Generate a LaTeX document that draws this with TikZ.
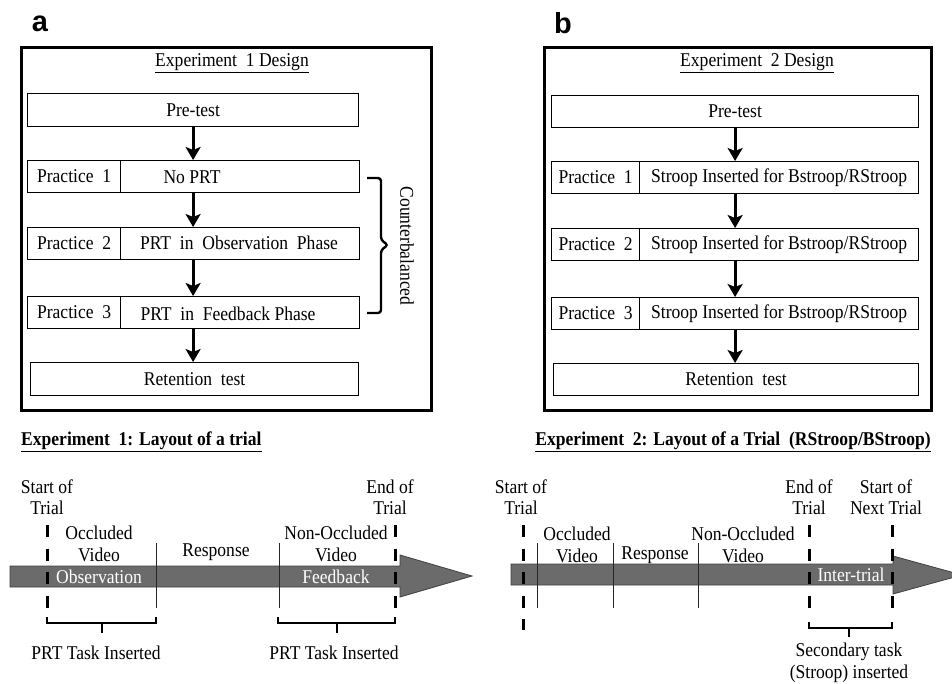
\documentclass[tikz,border=0pt]{standalone}
\usepackage{fontspec}
\setmainfont[FakeStretch=0.9]{Liberation Serif}
\newfontfamily\lsans{Liberation Sans}
\usetikzlibrary{arrows.meta}
\begin{document}
\begin{tikzpicture}[x=1pt,y=-1pt,
  every node/.style={font=\fontsize{19.5}{21.5}\selectfont, inner sep=0pt},
  outer/.style={draw, line width=3.2pt},
  box/.style={draw, line width=1.2pt, anchor=north west},
  arr/.style={line width=3pt, -{Stealth[length=13pt,width=15pt,inset=3pt]}},
  tl/.style={fill=black!58, draw=black!75, line width=0.8pt},
  dline/.style={line width=3pt, dash pattern=on 12pt off 11.5pt},
  thin/.style={line width=1pt, draw=black!85},
  brk/.style={line width=1.8pt},
  white/.style={text=white},
  panel/.style={font=\lsans\bfseries\fontsize{29}{29}\selectfont}
]
\clip (0,0) rectangle (952,683);
% ---------- panel letters
\node[panel] (la) at (40,24) {a};
\node[panel] (lb) at (563,23) {b};
% ---------- panel a
\node[outer, minimum width=410, minimum height=363, anchor=north west] (fa) at (20,46) {};
\node (ta) at (232,63) {\underline{Experiment\ \ 1 Design}};
\node[box, minimum width=331, minimum height=33] (pre1) at (27,93) {Pre-test};
\node[box, minimum width=93, minimum height=32] (p1l) at (27,160) {Practice\ \ 1};
\node[box, minimum width=239, minimum height=32] (p1r) at (120,160) {};
\node (p1t) at (192,177) {No PRT};
\node[box, minimum width=93, minimum height=32] (p2l) at (27,227) {Practice\ \ 2};
\node[box, minimum width=239, minimum height=32] (p2r) at (120,227) {};
\node (p2t) at (239,243) {PRT\ \ in\ \ Observation\ \ Phase};
\node[box, minimum width=93, minimum height=32] (p3l) at (27,296) {Practice\ \ 3};
\node[box, minimum width=239, minimum height=32] (p3r) at (120,296) {};
\node (p3t) at (228,314) {PRT\ \ in\ \ Feedback Phase};
\node[box, minimum width=328, minimum height=33] (ret1) at (30,362) {Retention\ \ test};
\draw[arr] (pre1.south) -- (pre1.south |- p1r.north);
\draw[arr] (pre1.south |- p1r.south) -- (pre1.south |- p2r.north);
\draw[arr] (pre1.south |- p2r.south) -- (pre1.south |- p3r.north);
\draw[arr] (pre1.south |- p3r.south) -- (pre1.south |- ret1.north);
\draw[line width=2.4pt, rounded corners=3pt] (367,178) -- (381,178) -- (381,240) -- (388,245) -- (381,250) -- (381,313) -- (367,313);
\node[rotate=-90] (cb) at (407,246) {Counterbalanced};
% ---------- panel b
\node[outer, minimum width=387, minimum height=363, anchor=north west] (fb) at (543,46) {};
\node (tb) at (757,63) {\underline{Experiment\ \ 2 Design}};
\node[box, minimum width=367, minimum height=32] (pre2) at (551,95) {Pre-test};
\node[box, minimum width=88, minimum height=32] (q1l) at (551,161) {Practice\ \ 1};
\node[box, minimum width=279, minimum height=32] (q1r) at (639,161) {Stroop Inserted for Bstroop/RStroop};
\node[box, minimum width=88, minimum height=32] (q2l) at (551,228) {Practice\ \ 2};
\node[box, minimum width=279, minimum height=32] (q2r) at (639,228) {Stroop Inserted for Bstroop/RStroop};
\node[box, minimum width=88, minimum height=32] (q3l) at (551,297) {Practice\ \ 3};
\node[box, minimum width=279, minimum height=32] (q3r) at (639,297) {Stroop Inserted for Bstroop/RStroop};
\node[box, minimum width=365, minimum height=32] (ret2) at (553,363) {Retention\ \ test};
\draw[arr] (pre2.south) -- (pre2.south |- q1r.north);
\draw[arr] (pre2.south |- q1r.south) -- (pre2.south |- q2r.north);
\draw[arr] (pre2.south |- q2r.south) -- (pre2.south |- q3r.north);
\draw[arr] (pre2.south |- q3r.south) -- (pre2.south |- ret2.north);
% ---------- bottom a
\node[anchor=west] (t1) at (21,442) {\underline{\textbf{Experiment\ \ 1: Layout of a trial}}};
\path[tl] (10,566) -- (400,566) -- (400,555) -- (472,576) -- (400,597) -- (400,587) -- (10,587) -- cycle;
\draw[dline] (47,525) -- (47,610);
\draw[dline] (395,525) -- (395,610);
\draw[thin] (156,543) -- (156,608);
\draw[thin] (279,543) -- (279,608);
\node[align=center] (s1) at (47,497) {Start of\\Trial};
\node[align=center] (e1) at (390,497) {End of\\Trial};
\node[align=center] (o1) at (99,544) {Occluded\\Video};
\node (r1) at (216,552) {Response};
\node[align=center] (n1) at (336,544) {Non-Occluded\\Video};
\node[white] (ob) at (99,577) {Observation};
\node[white] (fbk) at (336,577) {Feedback};
\draw[brk] (47,617) -- (47,623) -- (156,623) -- (156,617);
\draw[brk] (102,623) -- (102,633);
\draw[brk] (278,617) -- (278,623) -- (395,623) -- (395,617);
\draw[brk] (337,623) -- (337,633);
\node (k1) at (96,653) {PRT Task Inserted};
\node (k2) at (334,653) {PRT Task Inserted};
% ---------- bottom b
\node[anchor=east] (t2) at (931,442) {\underline{\textbf{Experiment\ \ 2: Layout of a Trial\ \ (RStroop/BStroop)}}};
\path[tl] (511,564) -- (893,564) -- (893,556) -- (962,575) -- (893,594) -- (893,585) -- (511,585) -- cycle;
\draw[dline] (523,525) -- (523,630);
\draw[dline] (809,525) -- (809,610);
\draw[dline] (892,525) -- (892,610);
\draw[thin] (537,543) -- (537,608);
\draw[thin] (613,543) -- (613,608);
\draw[thin] (698,543) -- (698,608);
\node[align=center] (s2) at (521,497) {Start of\\Trial};
\node[align=center] (o2) at (577,545) {Occluded\\Video};
\node (r2) at (655,555) {Response};
\node[align=center] (n2) at (743,545) {Non-Occluded\\Video};
\node[align=center] (e2) at (809,497) {End of\\Trial};
\node[align=center] (s3) at (886,497) {Start of\\Next Trial};
\node[white] (it) at (851,575) {Inter-trial};
\draw[brk] (809,622) -- (809,628) -- (892,628) -- (892,622);
\draw[brk] (849,628) -- (849,637);
\node[align=center] (k3) at (849,663) {Secondary task\\(Stroop) inserted};
\end{tikzpicture}
\end{document}
